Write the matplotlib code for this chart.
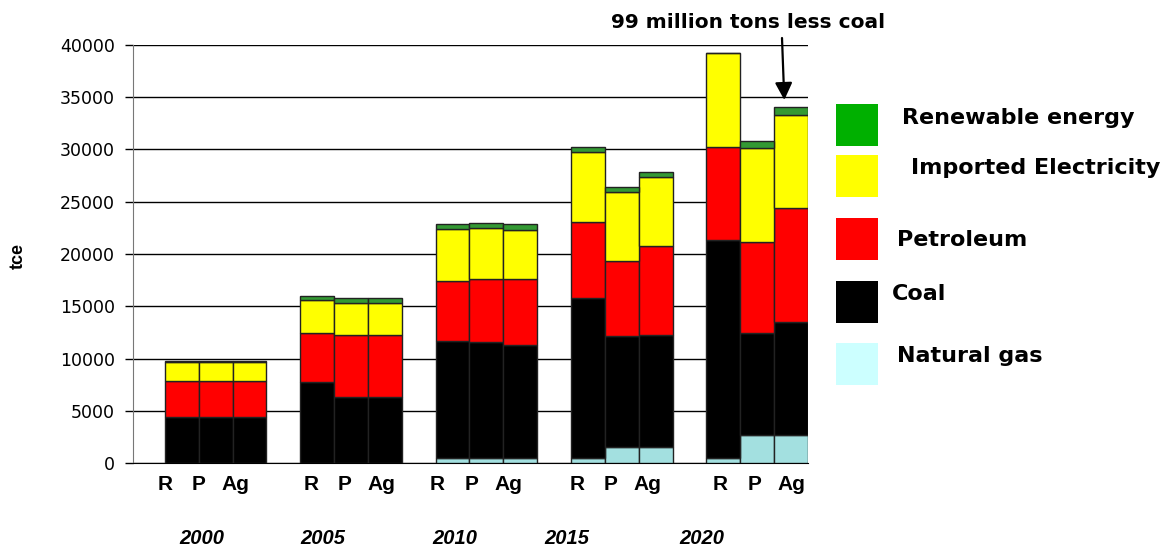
import numpy as np
import matplotlib.pyplot as plt
from matplotlib.patches import Rectangle
from matplotlib.transforms import ScaledTranslation

plt.rcParams['font.family'] = ['Liberation Sans', 'DejaVu Sans']

# Data (tce), per year: R, P, Ag scenarios
years = ["2000", "2005", "2010", "2015", "2020"]
scenarios = ["R", "P", "Ag"]

natural_gas = [0, 0, 0,  0, 0, 0,  500, 500, 500,  500, 1530, 1530,  500, 2650, 2650]
coal = [4370, 4370, 4370,  7720, 6350, 6350,  11170, 11050, 10790,
        15290, 10650, 10750,  20840, 9760, 10870]
petroleum = [3505, 3505, 3505,  4750, 5900, 5900,  5780, 6030, 6290,
             7300, 7180, 8520,  8870, 8770, 10880]
imported_el = [1755, 1755, 1755,  3100, 3090, 3090,  4980, 4880, 4720,
               6670, 6540, 6600,  8990, 8960, 8930]
renewable = [160, 160, 160,  410, 420, 420,  410, 510, 540,
             510, 510, 480,  0, 700, 770]

series = [natural_gas, coal, petroleum, imported_el, renewable]
bar_colors = ["#a3e0e0", "#000000", "#ff0000", "#ffff00", "#339933"]
legend_names = ["Renewable energy", "Imported Electricity", "Petroleum", "Coal", "Natural gas"]
legend_colors = ["#00b000", "#ffff00", "#ff0000", "#000000", "#ccffff"]

W, H = 1176, 548
fig = plt.figure(figsize=(W / 100, H / 100), dpi=100)
ax = fig.add_axes([133 / W, 1 - 463 / H, 675 / W, 418 / H])

# bar positions: 3 contiguous bars per year, one bar-width gap between groups
x = np.array([g * 4 + j for g in range(len(years)) for j in range(len(scenarios))], dtype=float)

bottom = np.zeros(len(x))
for vals, col in zip(series, bar_colors):
    vals = np.array(vals, dtype=float)
    ax.bar(x, vals, width=1.0, bottom=bottom, color=col,
           edgecolor="#222222", linewidth=1.0, zorder=3)
    bottom += vals

ax.set_xlim(-1.44, 18.5)
ax.set_ylim(0, 40000)
ax.set_yticks(np.arange(0, 40001, 5000))
ax.tick_params(axis="y", labelsize=12.5, length=6, width=1, direction="out", pad=7)
for lab in ax.get_yticklabels():
    lab.set_family("DejaVu Sans")
ax.yaxis.grid(True, color="black", linewidth=1.0, zorder=0)
ax.set_axisbelow(True)

for s in ["top", "right"]:
    ax.spines[s].set_visible(False)
ax.spines["left"].set_color("#777777")
ax.spines["bottom"].set_color("black")

ax.set_xticks(x)
ax.set_xticklabels(scenarios * len(years), fontsize=15, fontweight="bold")
ax.tick_params(axis="x", length=0, pad=9)
# labels sit a little left of the bar centres, by a different amount per group
group_shift = [-17, -6, -15, -11, -3]
for i, lab in enumerate(ax.get_xticklabels()):
    dx = group_shift[i // 3] + (3 if i % 3 == 2 else 0)
    lab.set_transform(lab.get_transform() + ScaledTranslation(dx / 100, 0, fig.dpi_scale_trans))

fig.text(18 / W, 1 - 256 / H, "tce", rotation=90, ha="center", va="center",
         fontsize=13, fontweight="bold")

# year labels under each group
year_x = [0.60, 4.17, 8.07, 11.38, 15.37]
for yx, yr in zip(year_x, years):
    ax.text(yx, -7250, yr, ha="center", va="center", fontsize=14.5,
            fontweight="bold", fontstyle="italic")

# annotation
fig.text(748 / W, 1 - 22 / H, "99 million tons less coal", ha="center", va="center",
         fontsize=14.5, fontweight="bold", family="DejaVu Sans")
ax.annotate("", xy=(17.8, 34740), xycoords="data",
            xytext=(782, H - 38), textcoords="figure pixels",
            arrowprops=dict(arrowstyle="-|>", color="black", lw=1.6, mutation_scale=26,
                            shrinkA=0, shrinkB=0),
            annotation_clip=False)

# legend
leg_y = [104, 155, 218, 281, 343]
leg_tx = [902, 911, 897, 892, 897]
leg_ty = [118, 168, 240, 294, 356]
for name, col, y0, tx, ty in zip(legend_names, legend_colors, leg_y, leg_tx, leg_ty):
    fig.patches.append(Rectangle((836 / W, 1 - (y0 + 42) / H), 42 / W, 42 / H,
                                 transform=fig.transFigure, facecolor=col,
                                 edgecolor="none"))
    fig.text(tx / W, 1 - ty / H, name, ha="left", va="center", fontsize=16,
             fontweight="bold", family="DejaVu Sans")

fig.savefig("out.png", dpi=100)
